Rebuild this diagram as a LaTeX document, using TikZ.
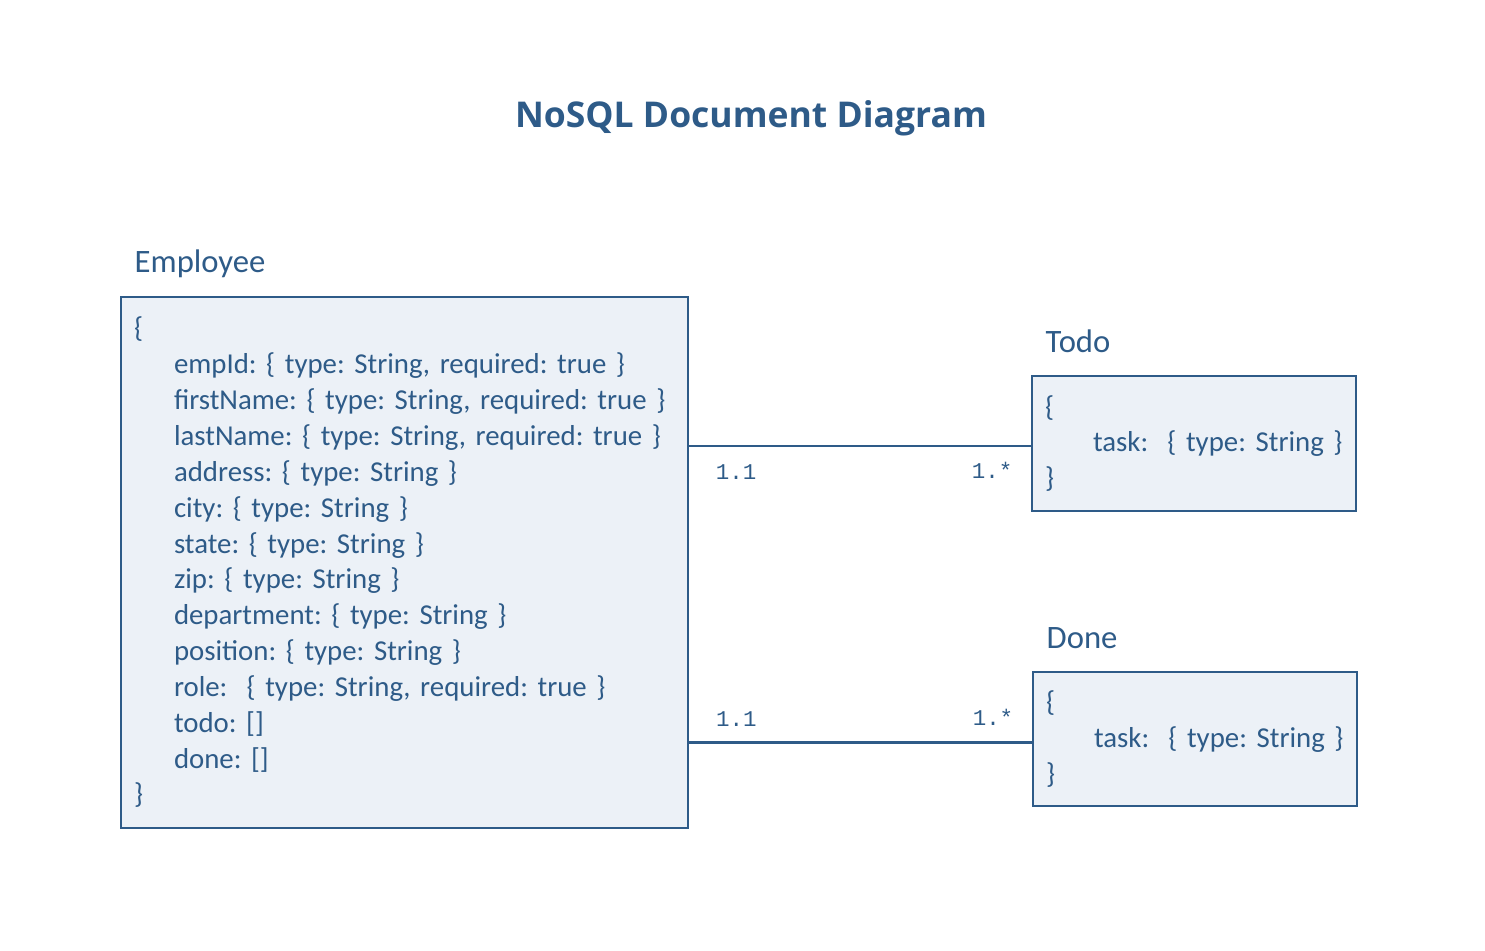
\documentclass[tikz,border=0pt]{standalone}
\usepackage{fontspec}
\setmainfont{Carlito}
\newfontfamily\titlefont{Open Sans}
\newfontfamily\cardfont{Liberation Mono}
\usetikzlibrary{positioning}
\definecolor{docblue}{HTML}{2E5B88}
\definecolor{docfill}{HTML}{ECF1F7}
\tikzstyle{docbox} = [draw=docblue, fill=docfill, line width=0.25mm, outer sep=0pt, inner xsep=1.3mm, inner ysep=0pt, anchor=north west, align=left, text=docblue, font=\fontsize{8.2}{10.2}\selectfont]
\tikzstyle{doclabel} = [anchor=base west, inner sep=0pt, text=docblue, font=\fontsize{9.3}{11}\selectfont]
\tikzstyle{card} = [inner sep=0pt, text=docblue, font=\cardfont\fontsize{6.4}{7}\selectfont]
\frenchspacing

\begin{document}
\begin{tikzpicture}
		\useasboundingbox (0,0) rectangle (14.85,9.5);
		\coordinate (title)   at (7.51, 8.32);
		\coordinate (employ)  at (1.21, 6.53);
		\coordinate (todo)    at (10.32, 5.74);
		\coordinate (done)    at (10.33, 2.78);

		\node[text=docblue, font=\titlefont\bfseries\fontsize{10.1}{12}\selectfont, inner sep=0pt] (TIT) at (title) {NoSQL Document Diagram};

		\node[docbox, minimum width=5.67cm, minimum height=5.31cm, text width=5.41cm] (EMP) at (employ) {\{\\
\hspace*{4mm}empId: \{ type: String, required: true \}\\
\hspace*{4mm}firstName: \{ type: String, required: true \}\\
\hspace*{4mm}lastName: \{ type: String, required: true \}\\
\hspace*{4mm}address: \{ type: String \}\\
\hspace*{4mm}city: \{ type: String \}\\
\hspace*{4mm}state: \{ type: String \}\\
\hspace*{4mm}zip: \{ type: String \}\\
\hspace*{4mm}department: \{ type: String \}\\
\hspace*{4mm}position: \{ type: String \}\\
\hspace*{4mm}role:~ \{ type: String, required: true \}\\
\hspace*{4mm}todo: []\\
\hspace*{4mm}done: []\\
\}};
		\node[docbox, minimum width=3.24cm, minimum height=1.35cm, text width=2.98cm] (TOD) at (todo) {\{\\
\hspace*{4.8mm}task:~ \{ type: String \}\\
\}};
		\node[docbox, minimum width=3.24cm, minimum height=1.34cm, text width=2.98cm] (DON) at (done) {\{\\
\hspace*{4.8mm}task:~ \{ type: String \}\\
\}};

		\node[doclabel] (EMPL) at (1.34, 6.77) {Employee};
		\node[doclabel] (TODL) at (10.45, 5.97) {Todo};
		\node[doclabel] (DONL) at (10.46, 3.02) {Done};

		\draw[docblue, line width=0.25mm] ([yshift=-0.25mm]EMP.east |- TOD.west) -- node[card, pos=0.14, yshift=-2.6mm]{1.1} node[card, pos=0.884, yshift=-2.4mm]{1.*} ([yshift=-0.25mm]TOD.west);
		\draw[docblue, line width=0.25mm] ([yshift=-0.35mm]EMP.east |- DON.west) -- node[card, pos=0.14, yshift=2.3mm]{1.1} node[card, pos=0.884, yshift=2.5mm]{1.*} ([yshift=-0.35mm]DON.west);

	\end{tikzpicture}
\end{document}
